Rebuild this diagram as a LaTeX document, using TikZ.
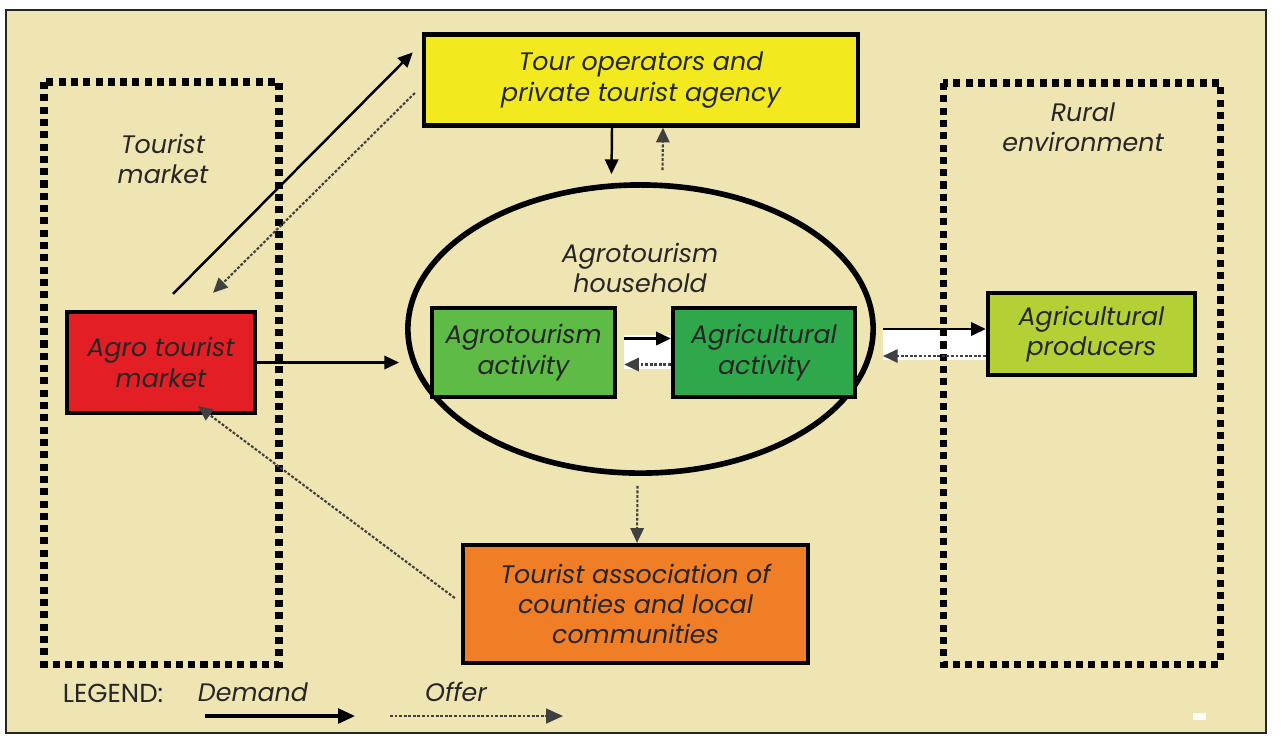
\documentclass[tikz,border=0pt]{standalone}
\usepackage{fontspec}
\setmainfont{Poppins}
\usetikzlibrary{arrows.meta,positioning,calc,shapes.geometric}
\definecolor{paper}{HTML}{EFE5B2}
\definecolor{ink}{HTML}{262626}
\definecolor{lemon}{HTML}{F2EA1F}
\definecolor{brick}{HTML}{E31E24}
\definecolor{leaf}{HTML}{5DBB46}
\definecolor{fern}{HTML}{2EA84A}
\definecolor{lime}{HTML}{B3D135}
\definecolor{tangerine}{HTML}{F07E26}
\tikzset{
  lbl/.style={text=ink,font=\fontsize{7.2}{8.6}\selectfont\itshape,align=center},
  abox/.style={rectangle,draw=black,line width=1.2pt,lbl,inner sep=0pt},
  zone/.style={draw=black,line width=2pt,dash pattern=on 2pt off 1.5pt},
  dedge/.style={-{Triangle[length=4.2pt,width=3.8pt]},line width=0.7pt,color=black},
  oedge/.style={-{Triangle[length=4.2pt,width=3.8pt]},line width=0.6pt,color=black!75,
    dash pattern=on 0.8pt off 0.5pt},
}

\begin{document}
\begin{tikzpicture}[x=0.01cm,y=-0.01cm]
  \fill[white] (0,0) rectangle (1286,738);
  \filldraw[fill=paper,draw=black!85,line width=0.6pt] (6,10) rectangle (1266,733);

  \node[lbl] (mktlbl)   at (163,159) {Tourist\\market};
  \node[lbl] (rurallbl) at (1083,127) {Rural\\environment};

  % household and its parts
  \node[ellipse,draw=black,line width=1.6pt,minimum width=4.65cm,minimum height=2.88cm,inner sep=0pt]
    (house) at (640.5,329) {};
  \node[lbl] (houselbl) at (640,268) {Agrotourism\\household};

  \node[abox,fill=lemon,minimum width=4.34cm,minimum height=0.91cm] (tour) at (641,80)
    {Tour operators and\\private tourist agency};
  \node[abox,fill=brick,minimum width=1.88cm,minimum height=1.01cm] (mkt) at (161,362.5)
    {Agro tourist\\market};
  \node[abox,fill=leaf,minimum width=1.83cm,minimum height=0.89cm] (act1) at (523.5,352.5)
    {Agrotourism\\activity};
  \node[abox,fill=fern,minimum width=1.82cm,minimum height=0.89cm] (act2) at (764,352.5)
    {Agricultural\\activity};
  \node[abox,fill=lime,minimum width=2.07cm,minimum height=0.82cm] (prod) at (1091.5,334)
    {Agricultural\\producers};
  \node[abox,fill=tangerine,minimum width=3.45cm,minimum height=1.18cm] (assoc) at (635.5,604)
    {Tourist association of\\counties and local\\communities};

  % white strips behind the paired arrows
  \fill[white] ($(act1.east)+(7,-18)$) rectangle ($(act2.west)+(0,16)$);
  \fill[white] ($(prod.west -| house.east)+(7,-6)$) rectangle ($(prod.west)+(0,26)$);

  % the two surroundings
  \draw[zone] (44,82) rectangle (279,664);
  \draw[zone] (943,83) rectangle (1220,664);

  % flows
  \draw[dedge] ($(mkt.north)+(12,-16)$) -- ($(tour.north west)+(-9,20)$);
  \draw[oedge] ($(tour.west)+(-7,13)$) -- ($(mkt.north)+(52,-17)$);
  \draw[dedge] ($(tour.south)+(-29,0)$) -- ($(house.north)+(-29,-8)$);
  \draw[oedge] ($(house.north)+(22,-12)$) -- ($(tour.south)+(22,0)$);
  \draw[dedge,shorten >=0.06cm] (mkt.east) -- (mkt.east -| house.west);
  \draw[dedge] ($(act1.east)+(7,-14)$) -- ($(act2.west)+(0,-14)$);
  \draw[oedge] ($(act2.west)+(0,12)$) -- ($(act1.east)+(7,12)$);
  \draw[dedge] ($(prod.west -| house.east)+(7,-5)$) -- ($(prod.west)+(0,-5)$);
  \draw[oedge] ($(prod.west)+(0,22)$) -- ($(prod.west -| house.east)+(7,22)$);
  \draw[oedge] ($(house.south)+(-3,10)$) -- ($(assoc.north)+(1.5,0)$);
  \draw[oedge] ($(assoc.west)+(-6,-6)$) -- ($(mkt.south)+(37,-9)$);

  % legend
  \node[text=ink,font=\fontsize{7.4}{8.6}\selectfont] (legend) at (113,693) {LEGEND:};
  \node[lbl] (dmdlbl) at (253,692) {Demand};
  \node[lbl] (offlbl) at (456,692) {Offer};
  \coordinate (dmd0) at (205,716);
  \coordinate (dmd1) at (355,716);
  \coordinate (off0) at (390,716);
  \coordinate (off1) at (563,716);
  \draw[dedge,line width=0.9pt,-{Triangle[length=4.8pt,width=4.2pt]}] (dmd0) -- (dmd1);
  \draw[oedge,-{Triangle[length=4.8pt,width=4.2pt]}] (off0) -- (off1);

  \fill[white] (1193,713) rectangle (1206,720);
\end{tikzpicture}
\end{document}
